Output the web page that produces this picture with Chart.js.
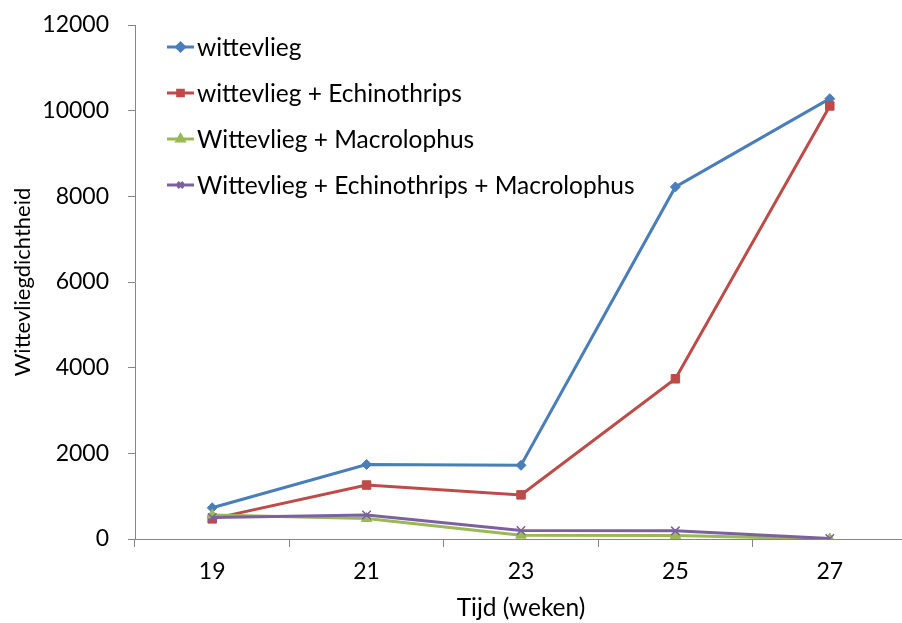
<!DOCTYPE html>
<html>
<head>
<meta charset="utf-8">
<script src="https://cdn.jsdelivr.net/npm/chart.js@4"></script>
<style>
  html, body { margin: 0; background: #fff; overflow: hidden; }
  #wrap { width: 907px; height: 623px; }
</style>
</head>
<body>
<div id="wrap"><canvas id="myChart"></canvas></div>
<script>
const weeks = ["19", "21", "23", "25", "27"]
const yTicks = [0, 2000, 4000, 6000, 8000, 10000, 12000]

const wittevlieg = [730, 1740, 1720, 8220, 10280]
const metEchinothrips = [470, 1260, 1030, 3740, 10110]
const metMacrolophus = [560, 480, 90, 80, 0]
const metBeide = [500, 560, 200, 190, 10]

const seriesNames = [
  "wittevlieg",
  "wittevlieg + Echinothrips",
  "Wittevlieg + Macrolophus",
  "Wittevlieg + Echinothrips + Macrolophus",
]
const colors = ["#4A7EBB", "#BE4B48", "#98B954", "#7D60A0"]
const markers = ["rectRot", "rect", "triangle", "crossRot"]
const markerSizes = [5, 6, 6, 6]

const font = "Lato, 'Open Sans', sans-serif"

const allData = [wittevlieg, metEchinothrips, metMacrolophus, metBeide]

const data = {
  labels: weeks,
  datasets: allData.map((vals, i) => ({
    label: seriesNames[i],
    data: vals,
    borderColor: colors[i],
    backgroundColor: colors[i],
    pointStyle: markers[i],
    pointRadius: markerSizes[i],
    pointBorderWidth: i == 3 ? 1.5 : 1,
    borderWidth: 3,
    tension: 0,
    order: 4 - i,
  })),
}

// legend drawn inside the plot like in Excel
const insideLegend = {
  id: "insideLegend",
  afterDraw(chart) {
    const ctx = chart.ctx
    const x0 = 167, y0 = 47, step = 46
    ctx.save()
    data.datasets.forEach((ds, i) => {
      const y = y0 + i * step
      ctx.strokeStyle = ds.borderColor
      ctx.lineWidth = 3
      ctx.beginPath()
      ctx.moveTo(x0, y)
      ctx.lineTo(x0 + 27, y)
      ctx.stroke()
      ctx.fillStyle = ds.borderColor
      Chart.helpers.drawPoint(ctx, {
        pointStyle: ds.pointStyle, radius: 4, borderWidth: 1.5, rotation: 0,
      }, x0 + 13.5, y)
      ctx.fillStyle = "#000"
      ctx.font = "24.5px " + font
      ctx.textBaseline = "middle"
      ctx.textAlign = "left"
      ctx.fillText(ds.label, x0 + 30, y + 1)
    })
    ctx.restore()
  },
}

const config = {
  type: "line",
  data: data,
  options: {
    responsive: true,
    maintainAspectRatio: false,
    animation: false,
    layout: { autoPadding: false, padding: { top: 25, right: 0, left: 10, bottom: 0 } },
    plugins: {
      legend: { display: false },
      tooltip: { enabled: false },
    },
    scales: {
      x: {
        offset: true,
        afterFit: (axis) => { axis.paddingRight = 0; axis.paddingLeft = 0 },
        grid: {
          offset: true,
          drawOnChartArea: false,
          color: "#868686",
          tickLength: 8,
        },
        border: { color: "#868686", width: 1 },
        ticks: { color: "#000", font: { family: font, size: 23 }, padding: 11 },
        title: {
          display: true,
          text: "Tijd (weken)",
          color: "#000",
          font: { family: font, size: 24.5 },
          padding: { top: -3, bottom: 0 },
        },
      },
      y: {
        min: 0,
        max: 12000,
        afterBuildTicks: (axis) => { axis.ticks = yTicks.map(v => ({ value: v })) },
        afterFit: (axis) => { axis.width = 125; axis.paddingTop = 0; axis.paddingBottom = 0 },
        grid: {
          drawOnChartArea: false,
          color: "#868686",
          tickLength: 7,
        },
        border: { color: "#868686", width: 1 },
        ticks: {
          color: "#000",
          font: { family: font, size: 23 },
          padding: 19,
          callback: (v) => String(v),
        },
        title: {
          display: true,
          text: "Wittevliegdichtheid",
          color: "#000",
          font: { family: font, size: 22 },
          padding: { top: 0, bottom: 0 },
        },
      },
    },
  },
  plugins: [insideLegend],
}

const MyChart = new Chart(document.getElementById("myChart"), config)
</script>
</body>
</html>
